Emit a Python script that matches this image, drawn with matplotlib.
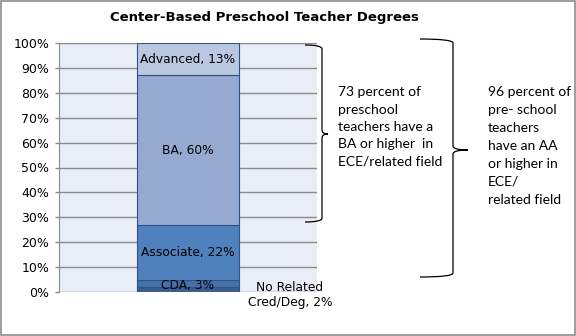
import matplotlib.pyplot as plt
from matplotlib.path import Path
from matplotlib.patches import PathPatch, Rectangle

# degree categories, bottom to top
categories = ["No Related Cred/Deg", "CDA", "Associate", "BA", "Advanced"]
shares = [2, 3, 22, 60, 13]
colors = ["#3A5F8F", "#4672A9", "#4F81BD", "#95A9D1", "#B9C7E1"]
labels = ["", "CDA, 3%", "Associate, 22%", "BA, 60%", "Advanced, 13%"]
yticks = [0, 10, 20, 30, 40, 50, 60, 70, 80, 90, 100]

W, H = 576, 336
fig = plt.figure(figsize=(W / 100, H / 100), dpi=100)
fig.patch.set_facecolor("white")
fig.add_artist(Rectangle((0.001, 0.002), 0.997, 0.996, transform=fig.transFigure,
                         fill=False, edgecolor="#8C8C8C", linewidth=1.2))

ax = fig.add_axes([59 / W, 1 - 292 / H, (317 - 59) / W, (292 - 43) / H])
ax.set_facecolor("#E9EDF5")
ax.set_xlim(-0.5, 0.5)
ax.set_ylim(0, 100)
ax.set_yticks(yticks)
ax.set_yticklabels([f"{t}%" for t in yticks], fontsize=9, family="DejaVu Sans")
ax.set_xticks([])
ax.grid(axis="y", color="#8C8C8C", linewidth=1)
ax.set_axisbelow(True)
for s in ["top", "right", "bottom"]:
    ax.spines[s].set_visible(False)
ax.spines["left"].set_color("#8C8C8C")
ax.tick_params(axis="y", length=3, width=1, color="#8C8C8C", pad=4, labelcolor="black")

bottom = 0
for val, col, lab in zip(shares, colors, labels):
    ax.bar(0, val, width=0.394, bottom=bottom, color=col, edgecolor="#2F5289", linewidth=0.8, zorder=3)
    if lab:
        yc = bottom + val / 2
        if lab.startswith("CDA"):
            yc = bottom + 0.8
        ax.text(0, yc, lab, ha="center", va="center", fontsize=8.8, family="DejaVu Sans", zorder=4)
    bottom += val

ax.text(0.395, 4.6, "No Related\nCred/Deg, 2%", ha="center", va="top", fontsize=8.8,
        family="DejaVu Sans", linespacing=1.2, clip_on=False)

fig.text(264.5 / W, 1 - 17 / H, "Center-Based Preschool Teacher Degrees", ha="center", va="center",
         fontsize=9.5, fontweight="bold", family="DejaVu Sans")


def px(x, y):
    return (x / W, 1 - y / H)


def brace(xl, xv, xt, ytop, ymid, ybot):
    r = 4
    verts = [px(xl, ytop), px(xv, ytop), px(xv, ytop + r),
             px(xv, ymid - r), px(xv, ymid), px(xt, ymid),
             px(xv, ymid), px(xv, ymid + r),
             px(xv, ybot - r), px(xv, ybot), px(xl, ybot)]
    codes = [Path.MOVETO, Path.CURVE3, Path.CURVE3,
             Path.LINETO, Path.CURVE3, Path.CURVE3,
             Path.CURVE3, Path.CURVE3,
             Path.LINETO, Path.CURVE3, Path.CURVE3]
    fig.add_artist(PathPatch(Path(verts, codes), transform=fig.transFigure,
                             fill=False, edgecolor="black", linewidth=0.9))


brace(305, 322, 328, 45, 134, 222)
brace(420, 453, 468, 39, 150, 277)

note1 = "73 percent of\npreschool\nteachers have a\nBA or higher  in\nECE/related field"
note2 = "96 percent of\npre- school\nteachers\nhave an AA\nor higher in\nECE/\nrelated field"
fig.text(338 / W, 1 - 86 / H, note1, ha="left", va="top", fontsize=10, family="Lato", linespacing=1.55)
fig.text(488 / W, 1 - 86 / H, note2, ha="left", va="top", fontsize=10, family="Lato", linespacing=1.6)

fig.savefig("out.png", dpi=100)
